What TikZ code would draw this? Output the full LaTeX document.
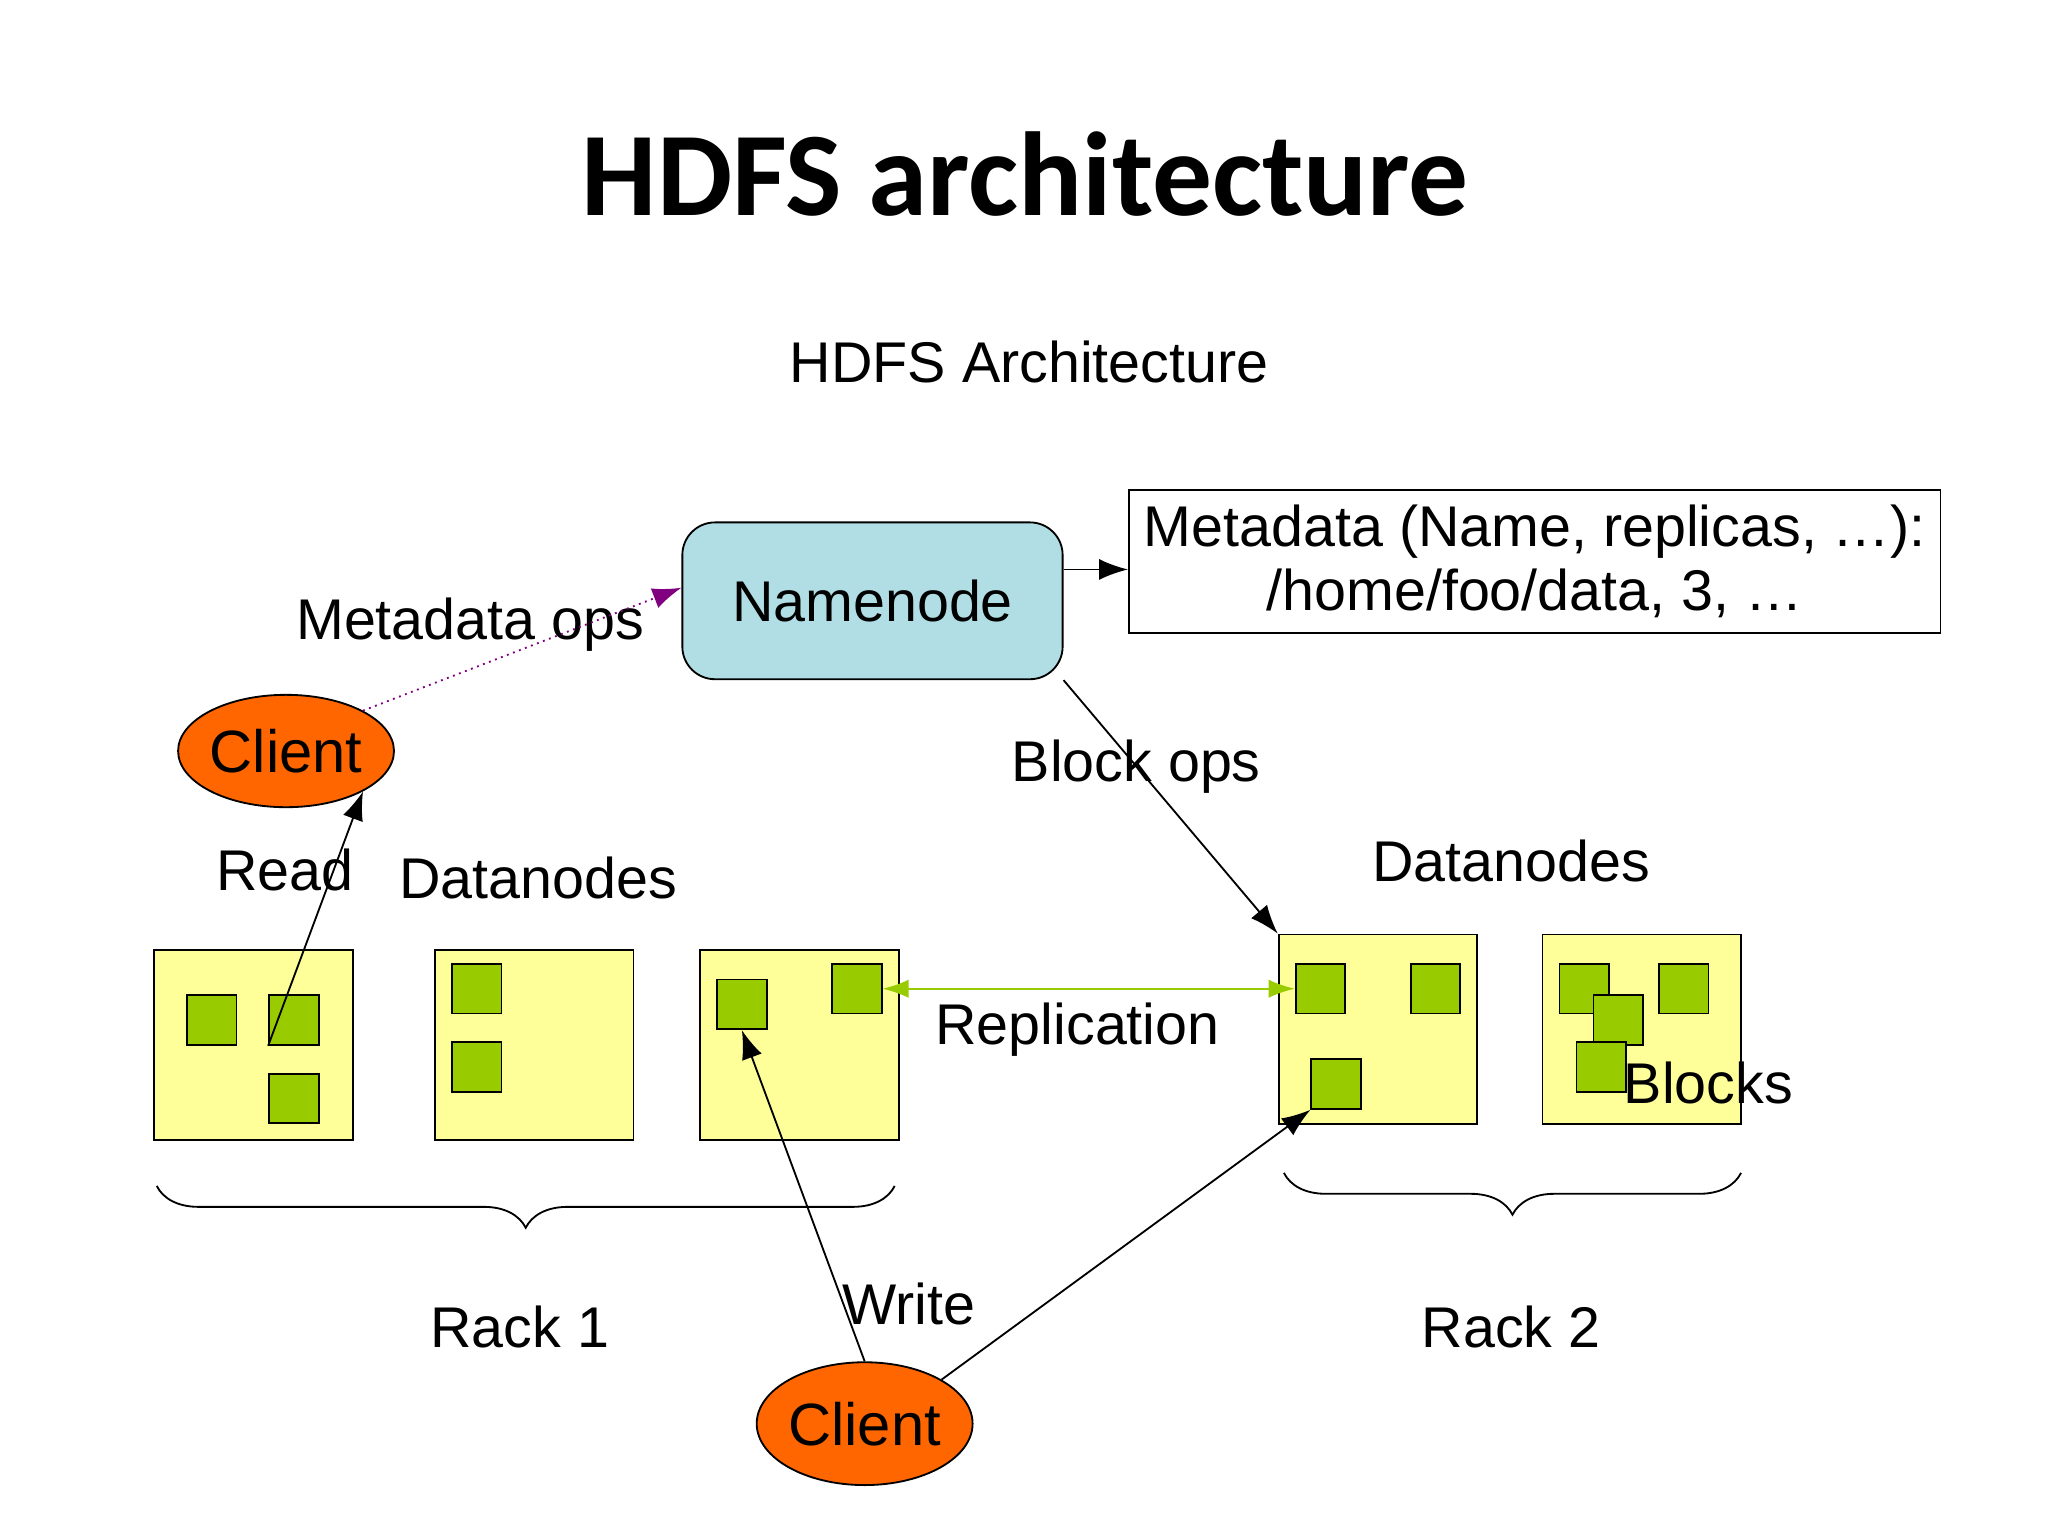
\documentclass[tikz,border=0pt]{standalone}
\usepackage{fontspec}
\setmainfont{Liberation Sans}
\newfontfamily\titlefont{Carlito}
\usetikzlibrary{arrows.meta, decorations.pathreplacing}
\definecolor{nnblue}{RGB}{176,222,228}
\definecolor{clorange}{RGB}{255,102,0}
\definecolor{dnyellow}{RGB}{255,255,153}
\definecolor{blkgreen}{RGB}{153,204,0}
\definecolor{repgreen}{RGB}{153,204,0}
\definecolor{opspurple}{RGB}{128,0,128}
\tikzset{
  lbl/.style={font=\fontsize{12.5}{14}\selectfont},
  dnode/.style={draw, fill=dnyellow, minimum width=1.52cm, minimum height=1.45cm, inner sep=0pt},
  blk/.style={draw, fill=blkgreen, minimum size=0.38cm, inner sep=0pt},
  client/.style={ellipse, draw, fill=clorange, minimum width=1.52cm, minimum height=0.86cm, inner sep=0pt, font=\fontsize{13}{15}\selectfont},
  conn/.style={-{Latex[length=2.2mm,width=1.6mm]}, thin},
  rack/.style={decorate, decoration={brace, mirror, amplitude=0.32cm}, thin},
}
\usetikzlibrary{shapes.geometric}
\begin{document}
\begin{tikzpicture}[x=0.01cm, y=-0.01cm]
    \useasboundingbox (0,0) rectangle (1568,1176);

    \node[font=\titlefont\bfseries\fontsize{26}{30}\selectfont] (title) at (785,133) {HDFS architecture};
    \node[lbl] (subtitle) at (788,277) {HDFS Architecture};

    % namenode and metadata
    \node[draw, fill=nnblue, rounded corners=0.25cm, minimum width=2.91cm, minimum height=1.2cm, lbl] (nn) at (668,460) {Namenode};
    \node[draw, minimum width=6.21cm, minimum height=1.09cm, align=center, lbl, inner sep=1pt] (meta) at (1175,430)
      {Metadata (Name, replicas, \dots):\\/home/foo/data, 3, \dots};
    \draw[conn] (nn.east |- 0,436) -- (meta.west |- 0,436);

    % clients
    \node[client] (c1) at (219,575) {Client};
    \node[client, minimum height=0.94cm] (c2) at (662,1090) {Client};

    % datanodes
    \node[dnode] (d1) at (194,800) {};
    \node[dnode] (d2) at (409,800) {};
    \node[dnode] (d3) at (612,800) {};
    \node[dnode] (d4) at (1055,788) {};
    \node[dnode] (d5) at (1257,788) {};

    \node[blk] (b11) at (162,781) {};
    \node[blk] (b12) at (225,781) {};
    \node[blk] (b13) at (225,841) {};
    \node[blk] (b21) at (365,757) {};
    \node[blk] (b22) at (365,817) {};
    \node[blk] (b31) at (568,769) {};
    \node[blk] (b32) at (656,757) {};
    \node[blk] (b41) at (1011,757) {};
    \node[blk] (b42) at (1099,757) {};
    \node[blk] (b43) at (1023,830) {};
    \node[blk] (b51) at (1213,757) {};
    \node[blk] (b52) at (1289,757) {};
    \node[blk] (b53) at (1239,781) {};
    \node[blk] (b54) at (1226,817) {};

    % labels
    \node[lbl] (lmeta) at (360,478) {Metadata ops};
    \node[lbl] (lblock) at (870,587) {Block ops};
    \node[lbl] (lread) at (218,666) {Read};
    \node[lbl] (ldn1) at (412,672) {Datanodes};
    \node[lbl] (ldn2) at (1157,659) {Datanodes};
    \node[lbl] (lrep) at (825,788) {Replication};
    \node[lbl] (lblk) at (1308,829) {Blocks};
    \node[lbl] (lwrite) at (696,998) {Write};
    \node[lbl] (lr1) at (398,1016) {Rack 1};
    \node[lbl] (lr2) at (1157,1016) {Rack 2};

    % connectors
    \draw[conn, opspurple, densely dotted] (c1.north east) -- (nn.west |- 0,450);
    \draw[conn] (nn.south east) -- (d4.north west);
    \draw[conn] (b12.south west) -- (c1.south east);
    \draw[{Latex[length=2mm,width=1.4mm]}-{Latex[length=2mm,width=1.4mm]}, repgreen] (b32.east) -- (b41.west);
    \draw[conn] (c2.north) -- (b31.south);
    \draw[conn] (c2.north east) -- (b43.south west);

    % racks
    \draw[rack] (120,908) -- (685,908);
    \draw[rack] (983,898) -- (1333,898);
\end{tikzpicture}
\end{document}
